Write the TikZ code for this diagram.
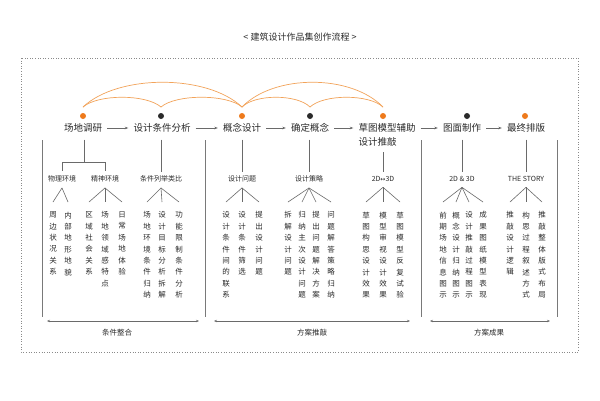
\documentclass[tikz,border=0pt]{standalone}
\usepackage{fontspec}
\newfontfamily\cjk{Noto Sans CJK SC}
\newfontfamily\djv{DejaVu Sans}
\usetikzlibrary{arrows.meta,calc}
\definecolor{org}{HTML}{EE7A1C}
\definecolor{arcc}{HTML}{F2A35A}
\definecolor{txt}{HTML}{2A2A2A}
\definecolor{ln}{HTML}{6A6A6A}
\definecolor{boxc}{HTML}{8A8A8A}
\newcommand\brn[2]{\draw[cline] ($(#1.south)+(0,5.5)$) -- ($(#2.north)+(0,-9.5)$);}
\begin{document}
\begin{tikzpicture}[x=1pt,y=-1pt,
 mainlbl/.style={font=\cjk\fontsize{9.5}{14}\selectfont, text=txt, inner sep=0pt},
 sublbl/.style={font=\cjk\fontsize{7}{9}\selectfont, text=txt, inner sep=0pt},
 botlbl/.style={font=\cjk\fontsize{7.5}{9}\selectfont, text=txt, inner sep=0pt},
 vcol/.style={font=\cjk\fontsize{7.5}{11.4}\selectfont, text=txt, align=center, anchor=north, inner sep=0pt},
 cline/.style={draw=ln, line width=0.6pt},
 flowarr/.style={cline, -{Stealth[length=3.5pt,width=2.6pt]}, shorten <=5pt, shorten >=5pt},
 dotn/.style={circle, inner sep=0pt, minimum size=6pt},
 arcln/.style={draw=arcc, line width=0.7pt},
 vconn/.style={cline, shorten <=7pt, shorten >=4pt},
 sepln/.style={draw=ln!90, line width=0.7pt},
 spanarr/.style={cline, {Stealth[length=3pt,width=2.4pt]}-{Stealth[length=3pt,width=2.4pt]}},
 ]
\useasboundingbox (0,0) rectangle (600,400);
\fill[white] (0,0) rectangle (600,400);

% title
\node[font=\cjk\fontsize{9}{11}\selectfont, text=txt] (title) at (300,37) {<\ 建筑设计作品集创作流程\ >};

% dotted frame
\draw[boxc, dotted, line width=0.6pt] (21,58) rectangle (578,352);

% main steps
\node[mainlbl] (l1) at (83,128) {场地调研};
\node[mainlbl] (l2) at (162,128) {设计条件分析};
\node[mainlbl] (l3) at (242,128) {概念设计};
\node[mainlbl] (l4) at (310,128) {确定概念};
\node[mainlbl, align=left] (l5) at (387,135) {草图模型辅助\\设计推敲};
\node[mainlbl] (l6) at (462,128) {图面制作};
\node[mainlbl] (l7) at (526,128) {最终排版};

\draw[flowarr] (l1.east) -- (l2.west);
\draw[flowarr] (l2.east) -- (l3.west);
\draw[flowarr] (l3.east) -- (l4.west);
\draw[flowarr] (l4.east) -- (l4.east -| l5.west);
\draw[flowarr] (l4.east -| l5.east) -- (l4.east -| l6.west);
\draw[flowarr] (l6.east) -- (l7.west);

% dots
\node[dotn, fill=org] (d1) at (83,116) {};
\node[dotn, fill=txt] (d2) at (161,116) {};
\node[dotn, fill=org] (d3) at (242,116) {};
\node[dotn, fill=txt] (d4) at (310,116) {};
\node[dotn, fill=org] (d5) at (383,116) {};
\node[dotn, fill=txt] (d6) at (467,116) {};
\node[dotn, fill=org] (d7) at (525,116) {};

% arcs
\coordinate (a1) at ($(d1)+(0,-9)$);
\coordinate (a2) at ($(d2)+(0,-9)$);
\coordinate (a3) at ($(d3)+(0,-9)$);
\coordinate (a4) at ($(d4)+(0,-9)$);
\coordinate (a5) at ($(d5)+(0,-9)$);
\draw[arcln] (a1) .. controls +(35,-33) and +(-35,-33) .. (a3);
\draw[arcln] (a1) .. controls +(15,-13) and +(-15,-13) .. (a2);
\draw[arcln] (a2) .. controls +(15,-13) and +(-15,-13) .. (a3);
\draw[arcln] (a3) .. controls +(32,-33) and +(-32,-33) .. (a5);
\draw[arcln] (a3) .. controls +(13,-13) and +(-13,-13) .. (a4);
\draw[arcln] (a4) .. controls +(14,-13) and +(-14,-13) .. (a5);

% section separators
\coordinate (sA1) at (42,140); \coordinate (sA2) at (42,317);
\coordinate (sB1) at (205,140); \coordinate (sB2) at (205,317);
\coordinate (sC1) at (421,140); \coordinate (sC2) at (421,317);
\coordinate (sD1) at (557,140); \coordinate (sD2) at (557,317);
\draw[sepln] (sA1) -- (sA2);
\draw[sepln] (sB1) -- (sB2);
\draw[sepln] (sC1) -- (sC2);
\draw[sepln] (sD1) -- (sD2);

% second level labels
\node[sublbl] (s1) at (62,179) {物理环境};
\node[sublbl] (s2) at (105,179) {精神环境};
\node[sublbl] (s3) at (161,179) {条件列举类比};
\node[sublbl] (s4) at (242,179) {设计问题};
\node[sublbl] (s5) at (309,179) {设计策略};
\node[sublbl] (s6) at (383,179) {2D{\djv\fontsize{6}{8}\selectfont ↔}3D};
\node[sublbl] (s7) at (462,179) {2D \& 3D};
\node[sublbl] (s8) at (526,179) {THE STORY};

% connectors to second level
\coordinate (j1) at (84,162);
\draw[cline, shorten <=7pt] (j1 |- l1.south) -- (j1);
\draw[cline, shorten <=5pt, shorten >=5pt] (s1.north) -- (s1.north |- j1) -- (s2.north |- j1) -- (s2.north);
\draw[vconn] (s3.north |- l2.south) -- (s3.north);
\draw[vconn] (s4.north |- l3.south) -- (s4.north);
\draw[vconn] (s5.north |- l4.south) -- (s5.north);
\draw[vconn, shorten <=5.5pt] (s6.north |- l5.south) -- (s6.north);
\draw[vconn] (s7.north |- l6.south) -- (s7.north);
\draw[vconn] (s8.north |- l7.south) -- (s8.north);

% vertical columns
\node[vcol] (c11) at (53,211.5) {周\\边\\状\\况\\关\\系};
\node[vcol] (c12) at (68,211.5) {内\\部\\地\\形\\地\\貌};
\node[vcol] (c21) at (89,211.5) {区\\域\\社\\会\\关\\系};
\node[vcol] (c22) at (105,211.5) {场\\地\\领\\域\\感\\特\\点};
\node[vcol] (c23) at (122,211.5) {日\\常\\场\\地\\体\\验};
\node[vcol] (c31) at (147,211.5) {场\\地\\环\\境\\条\\件\\归\\纳};
\node[vcol] (c32) at (162,211.5) {设\\计\\目\\标\\分\\析\\拆\\解};
\node[vcol] (c33) at (179,211.5) {功\\能\\限\\制\\条\\件\\分\\析};

\node[vcol] (c41) at (226,211.5) {设\\计\\条\\件\\间\\的\\联\\系};
\node[vcol] (c42) at (242,211.5) {设\\计\\条\\件\\筛\\选};
\node[vcol] (c43) at (259,211.5) {提\\出\\设\\计\\问\\题};
\node[vcol] (c51) at (288,211.5) {拆\\解\\设\\计\\问\\题};
\node[vcol] (c52) at (302,211.5) {归\\纳\\主\\次\\设\\计\\问\\题};
\node[vcol] (c53) at (316,211.5) {提\\出\\问\\题\\解\\决\\方\\案};
\node[vcol] (c54) at (331,211.5) {问\\题\\解\\答\\策\\略\\归\\纳};
\node[vcol] (c61) at (366,211.5) {草\\图\\构\\思\\设\\计\\效\\果};
\node[vcol] (c62) at (383,211.5) {模\\型\\审\\视\\设\\计\\效\\果};
\node[vcol] (c63) at (400,211.5) {草\\图\\模\\型\\反\\复\\试\\验};

\node[vcol] (c71) at (443,211.5) {前\\期\\场\\地\\信\\息\\图\\示};
\node[vcol] (c72) at (456,211.5) {概\\念\\设\\计\\归\\纳\\图\\示};
\node[vcol] (c73) at (469,211.5) {设\\计\\推\\敲\\过\\程\\图\\示};
\node[vcol] (c74) at (483,211.5) {成\\果\\图\\纸\\模\\型\\表\\现};
\node[vcol] (c81) at (510,211.5) {推\\敲\\设\\计\\逻\\辑};
\node[vcol] (c82) at (526,211.5) {构\\思\\过\\程\\叙\\述\\方\\式};
\node[vcol] (c83) at (542,211.5) {推\\敲\\整\\体\\版\\式\\布\\局};

% branches
\brn{s1}{c11} \brn{s1}{c12}
\brn{s2}{c21} \brn{s2}{c22} \brn{s2}{c23}
\brn{s3}{c31} \brn{s3}{c32} \brn{s3}{c33}
\brn{s4}{c41} \brn{s4}{c42} \brn{s4}{c43}
\brn{s5}{c51} \brn{s5}{c52} \brn{s5}{c53} \brn{s5}{c54}
\brn{s6}{c61} \brn{s6}{c62} \brn{s6}{c63}
\brn{s7}{c71} \brn{s7}{c72} \brn{s7}{c73} \brn{s7}{c74}
\brn{s8}{c81} \brn{s8}{c82} \brn{s8}{c83}

% bottom spans
\coordinate (p1) at (47,321); \coordinate (q1) at (199,321);
\coordinate (p2) at (214,321); \coordinate (q2) at (410,321);
\coordinate (p3) at (430,321); \coordinate (q3) at (550,321);
\draw[spanarr] (p1) -- (q1);
\draw[spanarr] (p2) -- (q2);
\draw[spanarr] (p3) -- (q3);
\node[botlbl] (b1) at (117,333) {条件整合};
\node[botlbl] (b2) at (312,333) {方案推敲};
\node[botlbl] (b3) at (489,333) {方案成果};
\end{tikzpicture}
\end{document}
